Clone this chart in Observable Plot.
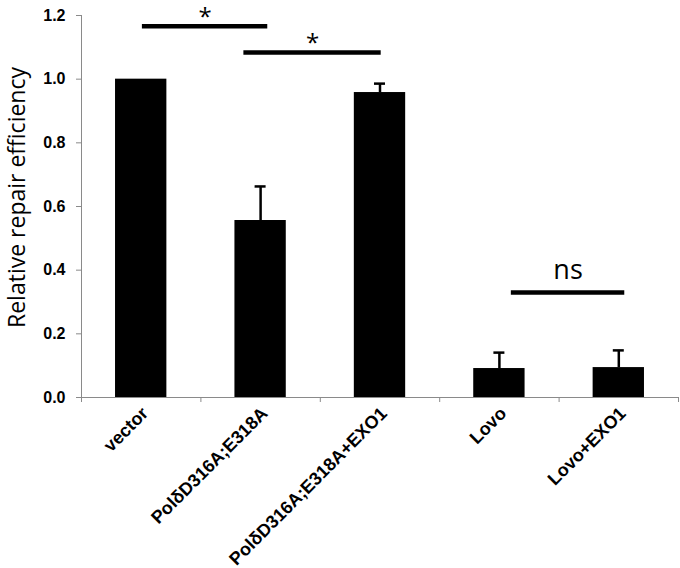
<!DOCTYPE html>
<html>
<head>
<meta charset="utf-8">
<script src="https://cdn.jsdelivr.net/npm/d3@7"></script>
<script src="https://cdn.jsdelivr.net/npm/@observablehq/plot@0.6"></script>
<style>
  html, body { margin: 0; padding: 0; background: #fff; }
</style>
</head>
<body>
<div id="chart"></div>
<script>
const categories = ["vector", "PolδD316A;E318A", "PolδD316A;E318A+EXO1", "Lovo", "Lovo+EXO1"];
const means = [1.0, 0.556, 0.958, 0.091, 0.094];
const errors = [0, 0.107, 0.028, 0.050, 0.054];
const yTicks = [0, 0.2, 0.4, 0.6, 0.8, 1.0, 1.2];
const yLabel = "Relative repair efficiency";
const sigLabels = ["*", "*", "ns"];
const sigFrom = [0.51, 1.36, 3.60];
const sigTo = [1.56, 2.51, 4.55];
const sigY = [1.166, 1.084, 0.330];

const barHalf = 0.215;
const rows = categories.map((c, i) => ({c, i, mean: means[i], err: errors[i]}));
const errRows = rows.filter(d => d.err > 0);
const sig = sigLabels.map((s, k) => ({s, x1: sigFrom[k], x2: sigTo[k], y: sigY[k]}));
const stars = sig.filter(d => d.s === "*");
const ns = sig.filter(d => d.s !== "*");
const boundaries = d3.range(categories.length + 1);
const centers = categories.map((c, i) => i + 0.5);

const axisColor = "#8a8a8a";
const tickFont = "'Liberation Sans', Arial, sans-serif";
const textFont = "'Open Sans', sans-serif";

const chart = Plot.plot({
  width: 680,
  height: 568,
  marginLeft: 81,
  marginRight: 2,
  marginTop: 15,
  marginBottom: 171,
  x: {type: "linear", domain: [0, categories.length]},
  y: {domain: [0, 1.2]},
  style: {background: "#fff", color: "#000"},
  marks: [
    Plot.rectY(rows, {x1: d => d.i + 0.5 - barHalf, x2: d => d.i + 0.5 + barHalf, y1: 0, y2: "mean", fill: "#000"}),
    Plot.ruleX(errRows, {x: d => d.i + 0.5, y1: "mean", y2: d => d.mean + d.err, stroke: "#000", strokeWidth: 2.5}),
    Plot.ruleY(errRows, {x1: d => d.i + 0.5, x2: d => d.i + 0.5, y: d => d.mean + d.err, stroke: "#000", strokeWidth: 2.5, insetLeft: -5.5, insetRight: -5.5}),
    Plot.ruleY([0], {stroke: axisColor, strokeWidth: 1}),
    Plot.ruleX([0], {y1: 0, y2: 1.2, stroke: axisColor, strokeWidth: 1}),
    Plot.axisX(boundaries, {tickSize: 5, tickFormat: () => "", stroke: axisColor, label: null}),
    Plot.axisX(centers, {tickSize: 0, tickPadding: 13, dx: 4, tickRotate: -45, tickFormat: v => categories[Math.floor(v)], fontSize: 18, fontWeight: "bold", fontFamily: tickFont, label: null}),
    Plot.axisY(yTicks, {tickSize: 5, tickPadding: 11, tickFormat: d3.format(".1f"), stroke: axisColor, fontSize: 16, fontWeight: "bold", fontFamily: tickFont, label: null}),
    Plot.text([yLabel], {frameAnchor: "left", textAnchor: "middle", rotate: -90, dx: -64, dy: -9, text: d => d, fontSize: 23, fontFamily: textFont, fill: "#000"}),
    Plot.ruleY(sig, {x1: "x1", x2: "x2", y: "y", stroke: "#000", strokeWidth: 4.5}),
    Plot.text(stars, {x: d => (d.x1 + d.x2) / 2, y: "y", text: "s", dy: -9, fontSize: 24, fontFamily: textFont, fill: "#000"}),
    Plot.text(ns, {x: d => (d.x1 + d.x2) / 2, y: "y", text: "s", dy: -22, fontSize: 27, fontFamily: textFont, fill: "#000"})
  ]
});
document.getElementById("chart").appendChild(chart);
</script>
</body>
</html>
